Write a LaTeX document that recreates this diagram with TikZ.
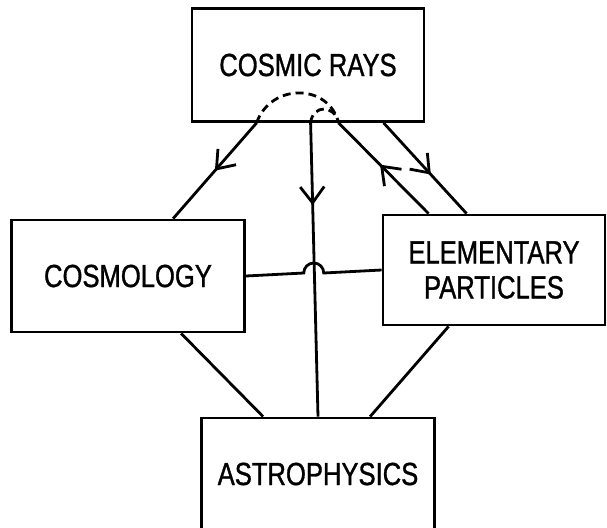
\documentclass[tikz,border=0pt]{standalone}
\usepackage{fontspec}
\setmainfont[FakeStretch=0.8, FakeBold=1]{Liberation Sans}
\usetikzlibrary{arrows.meta,calc,decorations.markings}

\begin{document}
\begin{tikzpicture}[x=0.5pt, y=-0.5pt, line width=1.4pt,
    field/.style={draw, rectangle, align=center, inner sep=0pt,
      font=\fontsize{16}{17.5}\selectfont},
    midarrow/.style={postaction={decorate}, decoration={markings,
      mark=at position #1 with {\arrow{Straight Barb[length=8pt, width=12pt]}}}},
    link/.style={dash pattern=on 4pt off 2.5pt}]
    \useasboundingbox (0,0) rectangle (607,527);

    % The four fields
    \node[field, minimum width=116pt, minimum height=56.5pt] (rays) at (308,65)
      {COSMIC RAYS};
    \node[field, minimum width=116.5pt, minimum height=56pt] (cosmo) at (128,276)
      {COSMOLOGY};
    \node[field, minimum width=111pt, minimum height=55pt] (elem) at (494,270)
      {ELEMENTARY\\PARTICLES};
    \node[field, minimum width=116.5pt, minimum height=56pt] (astro) at (318,474)
      {ASTROPHYSICS};

    % Feet of the lines on the boxes
    \coordinate (rl) at ($(rays.south west)+(66,0)$);
    \coordinate (rv) at ($(rays.south west)+(120,0)$);
    \coordinate (ri) at ($(rays.south west)+(148,0)$);
    \coordinate (ro) at ($(rays.south west)+(193,0)$);

    % Lines from cosmic rays
    \draw[midarrow=0.5] (rl) -- ($(cosmo.north west)+(163,0)$);
    \draw[midarrow=0.28] (rv) -- (astro.north);
    \draw[midarrow=0.54] ($(elem.north west)+(47,0)$) -- (ri);
    \draw[midarrow=0.57] (ro) -- ($(elem.north west)+(85,0)$);

    % Paths through the box
    \draw[link] (rl) .. controls +(14,-40) and +(-10,-40) .. (ri);
    \draw[link] (rv) .. controls +(2,-18.5) and +(-4,-18.5) .. (ri);

    % Cross link with a hop over the vertical line
    \draw (cosmo.east) -- ($(cosmo.east)!0.5!(elem.west)+(-10,0)$)
      arc[start angle=180, end angle=360, radius=10] -- (elem.west);

    % Lines down to astrophysics
    \draw ($(cosmo.south west)+(171,0)$) -- ($(astro.north west)+(63,0)$);
    \draw ($(elem.south west)+(67,0)$) -- ($(astro.north west)+(170,0)$);
\end{tikzpicture}
\end{document}
